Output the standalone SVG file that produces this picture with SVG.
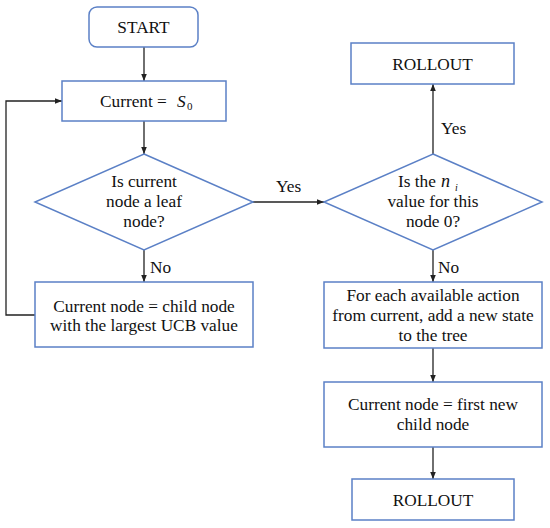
<svg xmlns="http://www.w3.org/2000/svg" width="550" height="528" viewBox="0 0 550 528">
<style>
.n{fill:#fff;stroke:#5b80c6;stroke-width:1.5}
.t{fill:#111;text-anchor:middle}
.l{fill:#111}
.c{fill:none;stroke:#222;stroke-width:1.3}
</style>
<defs>
<marker id="a" viewBox="0 0 10 10" refX="10" refY="5" markerWidth="7" markerHeight="7" markerUnits="userSpaceOnUse" orient="auto">
<path d="M0,1 L10,5 L0,9 z" fill="#222"/>
</marker>
</defs>
<rect width="550" height="528" fill="#fff"/>
<g font-family="Liberation Serif, serif" font-size="17.3">
<g id="connectors">
<line class="c" x1="144" y1="47" x2="144" y2="81" marker-end="url(#a)"/>
<line class="c" x1="144" y1="121" x2="144" y2="154" marker-end="url(#a)"/>
<line class="c" x1="144" y1="250" x2="144" y2="282" marker-end="url(#a)"/>
<polyline class="c" points="35,315 6,315 6,101 62,101" marker-end="url(#a)"/>
<line class="c" x1="253" y1="202" x2="324" y2="202" marker-end="url(#a)"/>
<line class="c" x1="433" y1="154" x2="433" y2="84" marker-end="url(#a)"/>
<line class="c" x1="433" y1="250" x2="433" y2="282" marker-end="url(#a)"/>
<line class="c" x1="433" y1="348" x2="433" y2="382" marker-end="url(#a)"/>
<line class="c" x1="433" y1="447" x2="433" y2="479" marker-end="url(#a)"/>
<text class="l" x="150" y="273">No</text>
<text class="l" x="438" y="273">No</text>
<text class="l" x="441" y="134">Yes</text>
<text class="l" x="276" y="192">Yes</text>
</g>
<g id="start">
<rect class="n" x="89" y="7" width="109" height="40" rx="8"/>
<text class="t" x="143.5" y="33">START</text>
</g>
<g id="current-s0">
<rect class="n" x="62" y="81" width="164" height="40"/>
<text class="l" x="100" y="107">Current =<tspan font-style="italic" x="177">S</tspan><tspan font-size="11" x="187" dy="3">0</tspan></text>
</g>
<g id="is-leaf">
<polygon class="n" points="144,154 253,202 144,250 35,202"/>
<text class="t" x="144" y="187">Is current</text>
<text class="t" x="144" y="207">node a leaf</text>
<text class="t" x="144" y="227">node?</text>
</g>
<g id="child-node">
<rect class="n" x="35" y="282" width="218" height="65"/>
<text class="t" x="144" y="312">Current node = child node</text>
<text class="t" x="144" y="331">with the largest UCB value</text>
</g>
<g id="is-ni-zero">
<polygon class="n" points="433,154 542,202 433,250 324,202"/>
<text class="l" x="398" y="187">Is the<tspan font-style="italic" font-size="18" x="441">n</tspan><tspan font-style="italic" font-size="10" x="455" dy="4">i</tspan></text>
<text class="t" x="433" y="207">value for this</text>
<text class="t" x="433" y="227">node 0?</text>
</g>
<g id="rollout-top">
<rect class="n" x="351" y="43" width="163" height="41"/>
<text class="t" x="432.5" y="70">ROLLOUT</text>
</g>
<g id="expand">
<rect class="n" x="324" y="282" width="218" height="66"/>
<text class="t" x="433" y="301">For each available action</text>
<text class="t" x="433" y="321">from current, add a new state</text>
<text class="t" x="433" y="341">to the tree</text>
</g>
<g id="first-child">
<rect class="n" x="324" y="382" width="218" height="65"/>
<text class="t" x="433" y="410">Current node = first new</text>
<text class="t" x="433" y="430">child node</text>
</g>
<g id="rollout-bottom">
<rect class="n" x="352" y="479" width="162" height="41"/>
<text class="t" x="433" y="506">ROLLOUT</text>
</g>
</g>
</svg>
